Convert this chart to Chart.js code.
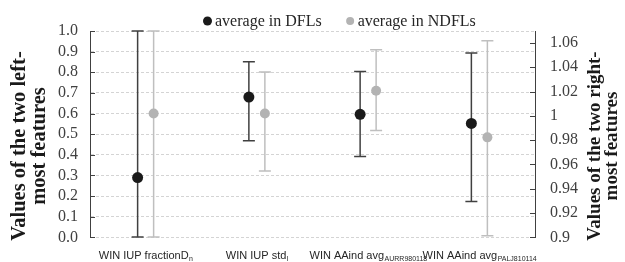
<!DOCTYPE html>
<html><head><meta charset="utf-8">
<script src="https://cdn.jsdelivr.net/npm/chart.js@4/dist/chart.umd.min.js"></script>
<style>html,body{margin:0;padding:0;background:#fff}canvas{display:block}</style>
</head><body>
<canvas id="c" width="625" height="262"></canvas>
<script>
// ---- data ----
const categoryMain = ['WIN IUP fractionD', 'WIN IUP std', 'WIN AAind avg', 'WIN AAind avg'];
const categorySub  = ['n', 'l', 'AURR980118', 'PALJ810114'];
const axisOf       = ['left', 'left', 'right', 'right'];
const seriesNames  = ['average in DFLs', 'average in NDFLs'];
const dflMean  = [0.29, 0.68, 1.0013, 0.9938];
const dflLow   = [0.0, 0.468, 0.9666, 0.9295];
const dflHigh  = [1.0, 0.851, 1.0365, 1.0516];
const ndflMean = [0.60, 0.60, 1.0206, 0.9823];
const ndflLow  = [0.0, 0.322, 0.9879, 0.9013];
const ndflHigh = [1.0, 0.801, 1.0543, 1.0618];
const leftTicks  = [0.0, 0.1, 0.2, 0.3, 0.4, 0.5, 0.6, 0.7, 0.8, 0.9, 1.0];
const rightTicks = [0.9, 0.92, 0.94, 0.96, 0.98, 1.0, 1.02, 1.04, 1.06];
const leftTitle  = ['Values of the two left-', 'most features'];
const rightTitle = ['Values of the two right-', 'most features'];

// ---- styles ----
const DFL_LINE = '#404040', DFL_DOT = '#1a1a1a';
const NDFL_LINE = '#bfbfbf', NDFL_DOT = '#b3b3b3';
const SERIF = '"Liberation Serif", "Times New Roman", serif';
const SANS = '"Liberation Sans", Arial, sans-serif';

function makeSet(name, low, high, mean, side, line, dot, r) {
  return {
    label: name,
    yAxisID: side === 'left' ? 'yL' : 'yR',
    data: categoryMain.map((_, i) => axisOf[i] === side ? [low[i], high[i]] : null),
    means: mean.map((m, i) => axisOf[i] === side ? m : null),
    backgroundColor: line, capColor: line, dotColor: dot, dotRadius: r,
    borderWidth: 0, inflateAmount: 0,
    barPercentage: 0.094, categoryPercentage: 0.2876, skipNull: true
  };
}
const datasets = [
  makeSet(seriesNames[0], dflLow, dflHigh, dflMean, 'left', DFL_LINE, DFL_DOT, 5.5),
  makeSet(seriesNames[1], ndflLow, ndflHigh, ndflMean, 'left', NDFL_LINE, NDFL_DOT, 5),
  makeSet(seriesNames[0], dflLow, dflHigh, dflMean, 'right', DFL_LINE, DFL_DOT, 5.5),
  makeSet(seriesNames[1], ndflLow, ndflHigh, ndflMean, 'right', NDFL_LINE, NDFL_DOT, 5)
];

const errPlugin = {
  id: 'errbars',
  afterDatasetsDraw(chart) {
    const ctx = chart.ctx;
    chart.data.datasets.forEach((ds, di) => {
      const meta = chart.getDatasetMeta(di);
      const ys = chart.scales[ds.yAxisID];
      meta.data.forEach((el, j) => {
        if (ds.data[j] == null) return;
        const x = el.x;
        ctx.save();
        ctx.strokeStyle = ds.capColor; ctx.lineWidth = 1.5;
        ctx.beginPath();
        ctx.moveTo(x - 6, el.y); ctx.lineTo(x + 6, el.y);
        ctx.moveTo(x - 6, el.base); ctx.lineTo(x + 6, el.base);
        ctx.stroke();
        ctx.fillStyle = ds.dotColor;
        ctx.beginPath();
        ctx.arc(x, ys.getPixelForValue(ds.means[j]), ds.dotRadius, 0, Math.PI * 2);
        ctx.fill();
        ctx.restore();
      });
    });
  }
};

const decorPlugin = {
  id: 'decor',
  afterDraw(chart) {
    const ctx = chart.ctx, ca = chart.chartArea;
    // inner tick marks
    ctx.save();
    ctx.strokeStyle = '#404040'; ctx.lineWidth = 1;
    const yL = chart.scales.yL, yR = chart.scales.yR;
    ctx.beginPath();
    leftTicks.forEach(v => { const y = Math.round(yL.getPixelForValue(v)) + 0.5; ctx.moveTo(ca.left, y); ctx.lineTo(ca.left + 5, y); });
    rightTicks.forEach(v => { const y = Math.round(yR.getPixelForValue(v)) + 0.5; ctx.moveTo(ca.right - 5, y); ctx.lineTo(ca.right, y); });
    ctx.stroke();
    ctx.restore();

    // category labels with subscripts
    const xs = chart.scales.x;
    ctx.save();
    ctx.fillStyle = '#262626';
    ctx.textBaseline = 'alphabetic'; ctx.textAlign = 'left';
    categoryMain.forEach((t, i) => {
      const cx = xs.getPixelForTick(i);
      ctx.font = '11px ' + SANS; const w1 = ctx.measureText(t).width;
      ctx.font = '7px ' + SANS; const w2 = ctx.measureText(categorySub[i]).width;
      const left = cx - (w1 + w2) / 2;
      ctx.font = '11px ' + SANS; ctx.fillText(t, left, 259);
      ctx.font = '7px ' + SANS; ctx.fillText(categorySub[i], left + w1 + 0.5, 261);
    });
    ctx.restore();

    // axis titles
    ctx.save();
    ctx.fillStyle = '#1a1a1a';
    ctx.textAlign = 'center'; ctx.textBaseline = 'alphabetic';
    ctx.font = 'bold 20.5px ' + SERIF;
    leftTitle.forEach((t, k) => {
      ctx.save(); ctx.translate(25 + k * 20, 146); ctx.rotate(-Math.PI / 2); ctx.fillText(t, 0, 0); ctx.restore();
    });
    ctx.font = 'bold 19px ' + SERIF;
    rightTitle.forEach((t, k) => {
      ctx.save(); ctx.translate(600 + k * 17, 146); ctx.rotate(-Math.PI / 2); ctx.fillText(t, 0, 0); ctx.restore();
    });
    ctx.restore();

    // legend
    ctx.save();
    ctx.font = '16px ' + SERIF; ctx.textBaseline = 'middle'; ctx.textAlign = 'left';
    const legendItems = [{ c: DFL_DOT, r: 4.5 }, { c: NDFL_DOT, r: 4 }];
    let lx = 203; const ly = 21;
    seriesNames.forEach((n, k) => {
      const it = legendItems[k];
      ctx.fillStyle = it.c;
      ctx.beginPath(); ctx.arc(lx + 4.5, ly, it.r, 0, Math.PI * 2); ctx.fill();
      ctx.fillStyle = '#262626';
      ctx.fillText(n, lx + 12, ly + 1);
      lx += 12 + ctx.measureText(n).width + 24;
    });
    ctx.restore();
  }
};

new Chart(document.getElementById('c'), {
  type: 'bar',
  data: { labels: categoryMain.map((t, i) => t + categorySub[i]), datasets },
  options: {
    responsive: false, animation: false,
    layout: { padding: { top: 31, left: 0, right: 0, bottom: 0 } },
    plugins: { legend: { display: false }, tooltip: { enabled: false } },
    scales: {
      x: {
        offset: true,
        grid: { display: false, drawTicks: false },
        border: { display: false },
        ticks: { display: false },
        afterFit: s => { s.height = 21; }
      },
      yL: {
        position: 'left', min: 0, max: 1,
        afterBuildTicks: s => { s.ticks = leftTicks.map(v => ({ value: v })); },
        afterFit: s => { s.width = 90; },
        grid: { color: '#d4d4d4', lineWidth: 1, drawTicks: false },
        border: { display: true, color: '#404040', width: 1, dash: [3, 2] },
        ticks: { autoSkip: false, padding: 12, color: '#404040', font: { family: SERIF, size: 16 }, callback: v => v.toFixed(1) }
      },
      yR: {
        position: 'right', min: 0.9, max: 1.0698,
        afterBuildTicks: s => { s.ticks = rightTicks.map(v => ({ value: v })); },
        afterFit: s => { s.width = 90; },
        grid: { drawOnChartArea: false, drawTicks: false },
        border: { display: true, color: '#404040', width: 1 },
        ticks: { autoSkip: false, padding: 15, color: '#404040', font: { family: SERIF, size: 16 }, callback: v => String(+v.toFixed(2)) }
      }
    }
  },
  plugins: [errPlugin, decorPlugin]
});
</script>
</body></html>
